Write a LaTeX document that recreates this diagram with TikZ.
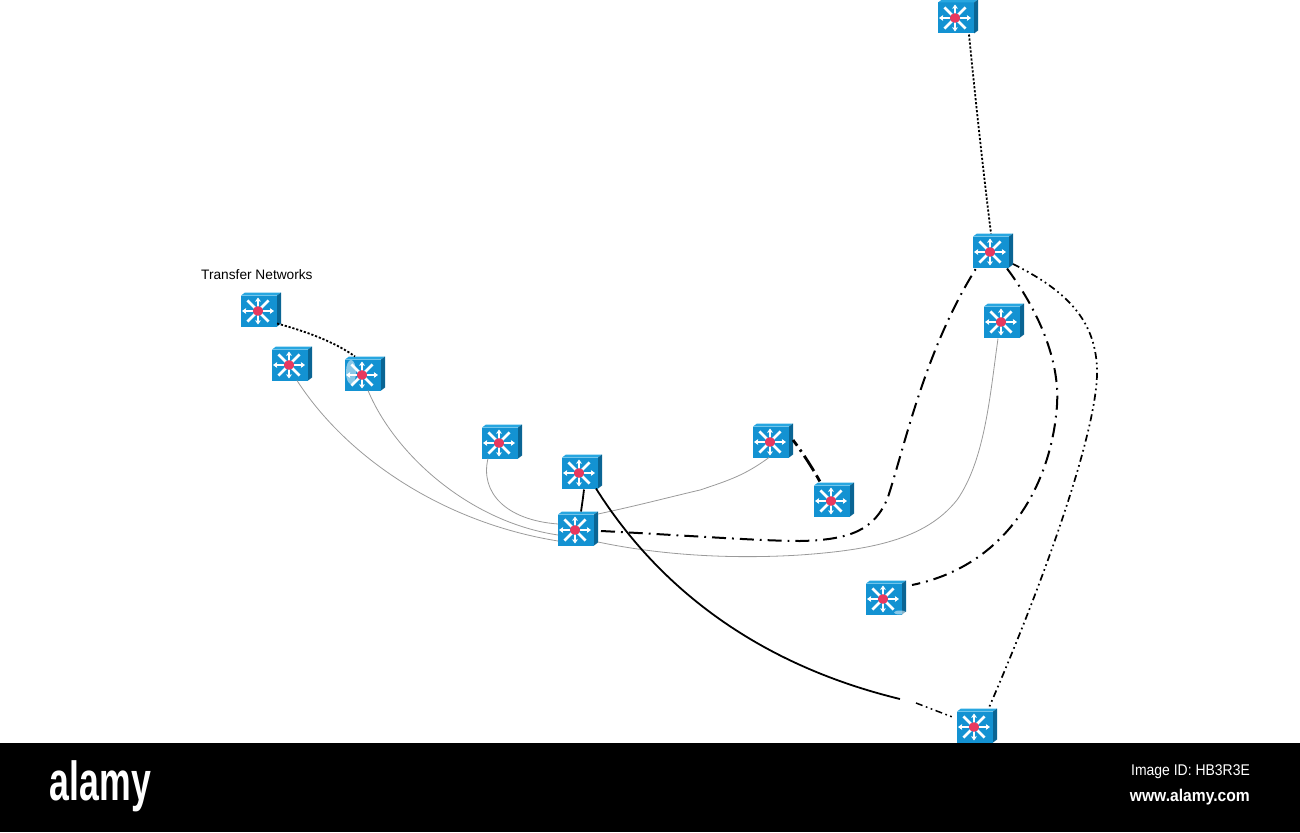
\documentclass[tikz,border=0pt]{standalone}
\usepackage{fontspec}
\setmainfont{Liberation Sans}
\usetikzlibrary{calc,arrows.meta}
\definecolor{swfront}{HTML}{1392D2}
\definecolor{swtop}{HTML}{27A6E0}
\definecolor{swside}{HTML}{0A6594}
\definecolor{swred}{HTML}{E8395F}
\definecolor{thin}{HTML}{9A9A9A}
\tikzset{
  swbox/.style={fill=swfront,draw=none,minimum width=36,minimum height=31,inner sep=0,outer sep=0},
  grayline/.style={draw=thin,line width=0.8},
  blackline/.style={draw=black,line width=1.8},
  dotline/.style={draw=black,line width=1.8,dash pattern=on 2.2 off 1.8},
  dashdot/.style={draw=black,line width=2,dash pattern=on 14 off 6 on 1.8 off 6},
  dashdotdot/.style={draw=black,line width=1.7,dash pattern=on 7 off 3.5 on 1.7 off 3.5 on 1.7 off 3.5},
  arm/.style={draw=white,line width=2.6},
}
\newcommand{\switchbox}[3]{%
  \node[swbox] (#1) at (#2+1,#3) {};
  \fill[swtop] (#1.north west) -- ++(4,-3) -- ++(36,0) -- ++(-4,3) -- cycle;
  \fill[swside] (#1.north east) -- ++(4,-3) -- ++(0,31) -- ++(-4,3) -- cycle;
  \foreach \a in {0,90,180,270}{
    \draw[arm,-{Stealth[length=4,width=5.5,inset=0.3]}] (#2,#3) -- ++(\a:{16-2.5*abs(sin(\a))});
  }
  \foreach \a in {45,135,225,315}{
    \draw[arm] (#2,#3) -- ++(\a:{15});
  }
  \fill[swred] (#2,#3) ellipse (5.2 and 4.8);
}
\begin{document}
\begin{tikzpicture}[x=1pt,y=-1pt]
\useasboundingbox (0,0) rectangle (1300,832);
\switchbox{top}{955}{18}
\switchbox{ntwo}{990}{252}
\switchbox{nthree}{1001}{322}
\switchbox{tone}{258}{311}
\switchbox{ttwo}{289}{365}
\switchbox{tthree}{362}{375}
\switchbox{a}{499}{443}
\switchbox{b}{579}{473}
\switchbox{c}{575}{530}
\switchbox{d}{770}{442}
\switchbox{e}{831}{501}
\switchbox{f}{883}{599}
\switchbox{g}{974}{727}
% small pale smudges on two of the switches
\fill[white,opacity=0.5] (351,372) ellipse (5 and 12);
\fill[white,opacity=0.5] (900,612.5) ellipse (6 and 2);
% label
\node[anchor=west,inner sep=0,font=\fontsize{13.7}{15}\selectfont] (lab) at (201,275) {Transfer Networks};
% anchors on the switches
\coordinate (topS) at ($(top.south)+(13,1)$);
\coordinate (ntwoN) at ($(ntwo.north)+(0,-3)$);
\coordinate (ntwoA) at ($(ntwo.south)+(-15,1)$);
\coordinate (ntwoB) at ($(ntwo.south)+(16,1)$);
\coordinate (ntwoC) at ($(ntwo.east)+(4,12)$);
\coordinate (cR) at ($(c.east)+(7,1)$);
\coordinate (cTl) at ($(c.west)+(0,-6)$);
\coordinate (cMl) at ($(c.west)+(0,5)$);
\coordinate (cBl) at ($(c.west)+(0,11)$);
\coordinate (cTr) at ($(c.east)+(4,-16)$);
\coordinate (cBr) at ($(c.east)+(4,12)$);
\coordinate (cT) at ($(c.north)+(5,-3)$);
\coordinate (bB) at ($(b.south)+(4,1)$);
\coordinate (bR) at ($(b.south)+(16,0)$);
\coordinate (gapA) at (900,699);
\coordinate (gapB) at (916,703);
\coordinate (gL) at ($(g.west)+(-2,-9)$);
\coordinate (gT) at ($(g.north)+(14,-4)$);
\coordinate (fR) at ($(f.east)+(10,-14)$);
% connectors
\draw[dotline] (topS) .. controls (975,95) and (983,170) .. (ntwoN);
\draw[dotline] ($(tone.south east)+(0,-3)$) .. controls (305,331) and (335,342) .. ($(tthree.north)+(-8,-3)$);
\draw[grayline] ($(ttwo.south)+(7,0)$) .. controls (345,455) and (440,522) .. (cBl);
\draw[grayline] ($(tthree.south)+(5,0)$) .. controls (395,455) and (470,522) .. (cMl);
\draw[grayline] ($(a.south)+(-12,0)$) .. controls (480,492) and (505,520) .. (cTl);
\draw[grayline] ($(d.south)+(-2,0)$) .. controls (745,475) and (730,480) .. (700,490) .. controls (670,497) and (640,505) .. (cTr);
\draw[grayline] ($(nthree.south)+(-4,1)$) .. controls (990,395) and (985,460) .. (957,500) .. controls (925,540) and (870,550) .. (800,555) .. controls (720,560) and (650,553) .. (cBr);
\draw[blackline] (bB) .. controls (583,498) and (582,505) .. (cT);
\draw[blackline] (bR) .. controls (660,590) and (760,665) .. (gapA);
\draw[dashdotdot,line width=1.5] (gapB) -- (gL);
\draw[draw=black,line width=2.8,dash pattern=on 7 off 5 on 2.4 off 5 on 18 off 5] ($(d.east)+(4,-2)$) .. controls (802,452) and (812,467) .. ($(e.north)+(-11,-2)$);
\draw[dashdot] (cR) .. controls (680,535) and (760,541) .. (800,541) .. controls (850,540) and (875,530) .. (888,497) .. controls (905,445) and (925,350) .. (ntwoA);
\draw[dashdot] (ntwoB) .. controls (1038,310) and (1060,360) .. (1057,405) .. controls (1052,480) and (1010,565) .. (fR);
\draw[dashdotdot] (ntwoC) .. controls (1065,290) and (1098,320) .. (1097,375) .. controls (1095,440) and (1040,590) .. (gT);
% footer
\fill[black] (0,743) rectangle (1300,832);
\node[text=white,inner sep=0,anchor=center,font=\fontsize{44}{44}\selectfont\bfseries,xscale=0.81,yscale=1.25] (logo) at (100.5,786) {alamy};
\node[text=white,inner sep=0,anchor=east,font=\fontsize{15.5}{17}\selectfont,xscale=0.9] (imgid) at (1250,772) {Image ID: HB3R3E};
\node[text=white,inner sep=0,anchor=east,font=\fontsize{17}{19}\selectfont\bfseries,xscale=0.92] (url) at (1250,797) {www.alamy.com};
\end{tikzpicture}
\end{document}
